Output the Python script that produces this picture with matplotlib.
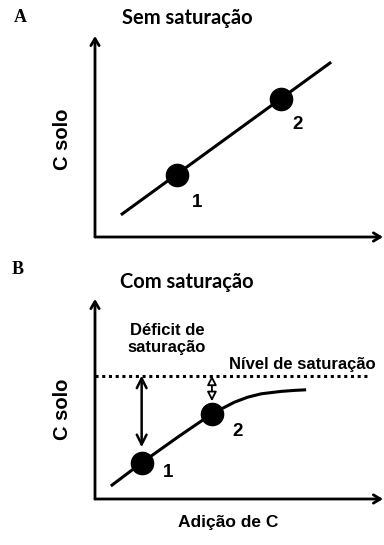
import matplotlib
matplotlib.use("Agg")
import matplotlib.pyplot as plt

# panel A: linear, no saturation
line_a_x = [0.9, 8.2]
line_a_y = [1.1, 8.7]
pts_a_x = [2.85, 6.45]
pts_a_y = [3.1, 6.85]
pts_labels = ["1", "2"]

# panel B: curve approaching a saturation level
curve_b_x = [0.55, 1.62, 2.88, 4.06, 4.84, 5.30, 5.77, 6.46, 6.92, 7.33]
curve_b_y = [0.65, 1.81, 3.10, 4.26, 4.84, 5.09, 5.26, 5.38, 5.43, 5.46]
pts_b_x = [1.62, 4.06]
pts_b_y = [1.81, 4.26]
sat_level = 6.17
sat_end = 9.45

W, H = 384, 545
fig = plt.figure(figsize=(W / 100, H / 100), dpi=100)

def px_ax(left, right, top, bottom):
    return fig.add_axes([left / W, 1 - bottom / H, (right - left) / W, (bottom - top) / H])

def ftext(x, y, s, **kw):
    fig.text(x / W, 1 - y / H, s, **kw)

bold = dict(family="Liberation Sans", fontweight="bold", color="black")
title_font = dict(family="Lato", fontweight="bold", fontsize=14.5)
letter_font = dict(family="Liberation Serif", fontweight="bold", fontsize=13)

def setup(ax):
    ax.set_xlim(0, 10)
    ax.set_ylim(0, 10)
    ax.axis("off")
    arrow = dict(arrowstyle="->,head_length=0.5,head_width=0.3", lw=2, color="black",
                 shrinkA=0, shrinkB=0)
    ax.annotate("", xy=(0, 1), xytext=(0, 0), xycoords="axes fraction",
                arrowprops=arrow, annotation_clip=False)
    ax.annotate("", xy=(1, 0), xytext=(0, 0), xycoords="axes fraction",
                arrowprops=arrow, annotation_clip=False)

# ---- A ----
ax1 = px_ax(95, 383, 36, 237)
setup(ax1)
ax1.plot(line_a_x, line_a_y, color="black", lw=2.2, solid_capstyle="butt")
ax1.plot(pts_a_x, pts_a_y, "o", color="black", ms=16)
ax1.text(3.56, 1.73, pts_labels[0], fontsize=13.5, ha="center", va="center", **bold)
ax1.text(7.02, 5.59, pts_labels[1], fontsize=13.5, ha="center", va="center", **bold)

ftext(20, 17, "A", ha="center", va="center", **letter_font)
ftext(187, 18, "Sem saturação", ha="center", va="center", **title_font)
ftext(62, 139, "C solo", rotation=90, ha="center", va="center", fontsize=14.5, **bold)

# ---- B ----
ax2 = px_ax(95, 383, 299, 499)
setup(ax2)
ax2.plot(curve_b_x, curve_b_y, color="black", lw=2.2, solid_capstyle="butt",
         solid_joinstyle="round")
ax2.plot(pts_b_x, pts_b_y, "o", color="black", ms=16)
ax2.plot([0, sat_end], [sat_level, sat_level], color="black", lw=2.2,
         linestyle=(0, (1, 1.2)))
ax2.annotate("", xy=(pts_b_x[0], 2.59), xytext=(pts_b_x[0], sat_level),
             arrowprops=dict(arrowstyle="<->,head_length=0.7,head_width=0.35", lw=1.8,
                             color="black", shrinkA=0, shrinkB=0))
ax2.annotate("", xy=(pts_b_x[1], 4.89), xytext=(pts_b_x[1], sat_level),
             arrowprops=dict(arrowstyle="<|-|>,head_length=0.55,head_width=0.28", lw=1.3,
                             fc="white", ec="black", shrinkA=0, shrinkB=0))
ax2.text(2.53, 1.34, pts_labels[0], fontsize=13.5, ha="center", va="center", **bold)
ax2.text(4.95, 3.38, pts_labels[1], fontsize=13.5, ha="center", va="center", **bold)

ftext(18, 270, "B", ha="center", va="center", **letter_font)
ftext(187, 282, "Com saturação", ha="center", va="center", **title_font)
ftext(167, 339, "Déficit de\nsaturação", ha="center", va="center", fontsize=12,
      linespacing=1.1, **bold)
ftext(302, 364, "Nível de saturação", ha="center", va="center", fontsize=12, **bold)
ftext(62, 409, "C solo", rotation=90, ha="center", va="center", fontsize=14.5, **bold)
ftext(228, 523, "Adição de C", ha="center", va="center", fontsize=12.5, **bold)

fig.savefig("out.png", dpi=100)
